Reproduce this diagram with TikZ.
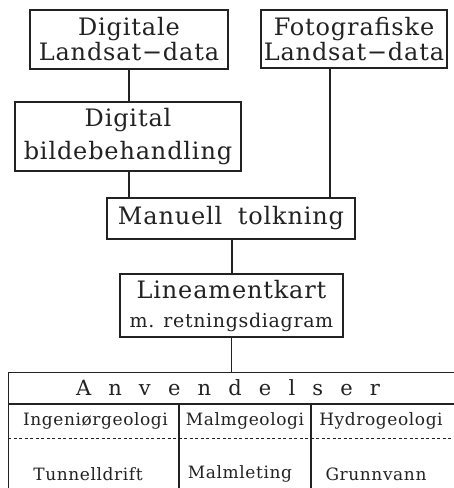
\documentclass[tikz,border=0pt]{standalone}
\usepackage{fontspec}
\setmainfont{DejaVu Serif}[LetterSpace=3.5]
\definecolor{ink}{HTML}{222222}
\begin{document}
\begin{tikzpicture}[x=1pt,y=-1pt,
  every node/.style={text=ink},
  box/.style={draw=ink,line width=1.2pt,inner sep=0pt,align=center},
  big/.style={font=\fontsize{24}{25}\selectfont},
  conn/.style={draw=ink,line width=1.1pt},
  cell/.style={font=\fontsize{17}{18}\selectfont}]
\useasboundingbox (0,0) rectangle (454,488);
\clip (0,0) rectangle (454,488);
\node[box,big,minimum width=198pt,minimum height=59pt] (A) at (129,39.5) {Digitale\\Landsat−data};
\node[box,big,minimum width=186pt,minimum height=58pt] (B) at (354,39) {Fotografiske\\Landsat−data};
\node[box,big,minimum width=226pt,minimum height=69pt] (C) at (128,136.5) {Digital\\[8pt]bildebehandling};
\node[box,big,minimum width=248pt,minimum height=41pt] (D) at (231,218.5) {Manuell\hspace{7pt} tolkning};
\node[box,minimum width=223pt,minimum height=63pt,font=\fontsize{20}{29}\selectfont] (E) at (231.5,305.5)
  {{\fontsize{24}{29}\selectfont Lineamentkart}\\{\fontsize{19}{29}\selectfont m. retningsdiagram}};
% table
\node[draw=ink,line width=1.2pt,minimum width=450pt,minimum height=130pt,inner sep=0pt,anchor=north west] (T) at (8,372) {};
\coordinate (r1) at (8,404);
\coordinate (r2) at (8,438);
\coordinate (c1) at (179,404);
\coordinate (c2) at (311,404);
\draw[conn] (r1) -- (r1 -| T.east);
\draw[conn,dashed,dash pattern=on 3pt off 2.5pt,line width=0.9pt] (r2) -- (r2 -| T.east);
\draw[conn] (c1) -- (c1 |- T.south);
\draw[conn] (c2) -- (c2 |- T.south);
\node[font=\fontsize{21}{22}\selectfont] (Anv) at (228,388) {\makebox[304pt][s]{A\hfil n\hfil v\hfil e\hfil n\hfil d\hfil e\hfil l\hfil s\hfil e\hfil r}};
\node[cell] (h1) at (95.5,421) {Ingeniørgeologi};
\node[cell] (h2) at (245,421) {Malmgeologi};
\node[cell] (h3) at (381,421) {Hydrogeologi};
\node[cell] (t1) at (88,474) {Tunnelldrift};
\node[cell] (t2) at (240,474) {Malmleting};
\node[cell] (t3) at (376,474) {Grunnvann};
% connectors
\draw[conn] (A.south) -- (A.south |- C.north);
\draw[conn] ([xshift=1pt]C.south) -- ([xshift=1pt]C.south |- D.north);
\draw[conn] ([xshift=-24pt]B.south) -- ([xshift=-24pt]B.south |- D.north);
\draw[conn] ([xshift=1pt]D.south) -- ([xshift=1pt]D.south |- E.north);
\draw[conn] (E.south) -- (E.south |- T.north);
\end{tikzpicture}
\end{document}
